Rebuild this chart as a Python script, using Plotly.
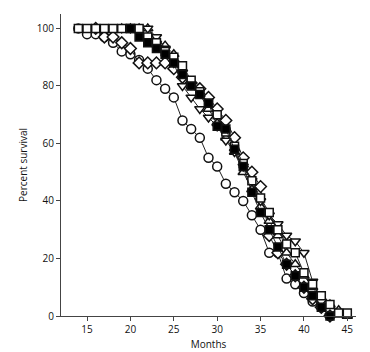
import plotly.graph_objects as go

months_circle = list(range(14, 44))
circle = [100, 98, 98, 97, 95, 92, 91, 89, 86, 82, 79, 76, 68, 65, 62, 55, 52, 46, 43, 40, 35, 30, 22, 22, 13, 11, 8, 5, 3, 0]

months_diamond = list(range(16, 44))
diamond = [100, 97, 97, 95, 93, 88, 88, 88, 88, 86, 83, 81, 79, 76, 72, 68, 62, 55, 50, 45, 28, 22, 18, 14, 10, 6, 3, 0]

months_tri_up = list(range(19, 46))
tri_up = [100, 100, 100, 100, 96, 94, 91, 86, 80, 77, 72, 67, 62, 57, 50, 44, 38, 33, 28, 22, 18, 14, 10, 6, 4, 2, 0]

months_tri_down = list(range(19, 44))
tri_down = [100, 100, 100, 100, 97, 93, 88, 80, 76, 72, 69, 66, 61, 57, 52, 47, 40, 35, 32, 28, 26, 22, 12, 5, 0]

months_sq_open = list(range(14, 46))
sq_open = [100, 100, 100, 100, 100, 100, 100, 100, 97, 95, 92, 90, 87, 82, 78, 74, 70, 64, 59, 53, 47, 41, 36, 30, 25, 22, 15, 11, 7, 4, 1, 1]

months_sq_fill = list(range(20, 44))
sq_fill = [100, 97, 95, 93, 91, 88, 84, 80, 77, 74, 66, 65, 58, 52, 43, 36, 30, 24, 18, 14, 10, 7, 3, 0]

series = [
    ("circle", months_circle, circle, "circle", "white", 9),
    ("diamond", months_diamond, diamond, "diamond", "white", 9),
    ("triangle-up", months_tri_up, tri_up, "triangle-up", "white", 9),
    ("triangle-down", months_tri_down, tri_down, "triangle-down", "white", 9),
    ("square-open", months_sq_open, sq_open, "square", "white", 8),
    ("square-filled", months_sq_fill, sq_fill, "square", "black", 8),
]

fig = go.Figure()
for name, xs, ys, sym, fill, size in series:
    fig.add_trace(go.Scatter(
        x=xs, y=ys, mode="lines+markers", name=name,
        line=dict(color="#222", width=1),
        marker=dict(symbol=sym, size=size, color=fill,
                    line=dict(color="#111", width=1.5)),
        cliponaxis=False, showlegend=False,
    ))

fig.update_layout(
    width=370, height=352,
    margin=dict(l=61, r=14, t=14, b=36),
    paper_bgcolor="white", plot_bgcolor="white",
    font=dict(family="Open Sans, Liberation Sans, sans-serif", size=10, color="#111"),
)
fig.update_xaxes(
    range=[12, 46], tickvals=[15, 20, 25, 30, 35, 40, 45],
    showline=True, linecolor="#444", linewidth=1.2,
    ticks="outside", ticklen=4, tickcolor="#444",
    showgrid=False, zeroline=False, automargin=False,
    title=dict(text="Months", font=dict(size=10, color="#111"), standoff=5),
)
fig.update_yaxes(
    range=[0, 105], tickvals=[0, 20, 40, 60, 80, 100],
    showline=True, linecolor="#444", linewidth=1.2,
    ticks="outside", ticklen=4, tickcolor="#444",
    showgrid=False, zeroline=False, automargin=False,
    title=dict(text="Percent survival", font=dict(size=10, color="#111"), standoff=7),
)
fig.write_html("out.html")
